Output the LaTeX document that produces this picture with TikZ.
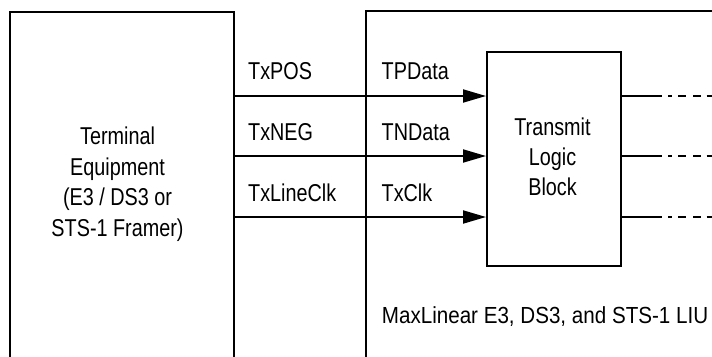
\documentclass[tikz,border=0pt]{standalone}
\usepackage{fontspec}
\setmainfont{Liberation Sans}
\usetikzlibrary{arrows.meta}
\newcommand{\vst}[1]{\scalebox{1}[1.23]{#1}}
\newcommand{\vsm}[1]{\scalebox{1}[1.13]{#1}}
\tikzset{
  thickbox/.style={draw, line width=2pt, inner sep=0pt, fill=none},
  thinbox/.style={draw, line width=1.3pt, inner sep=0pt},
  lbl/.style={inner sep=0pt, font=\fontsize{19.8}{24}\selectfont},
  biglbl/.style={inner sep=0pt, font=\fontsize{20.6}{24}\selectfont},
  sig/.style={line width=2pt, -{Triangle[length=23pt,width=13pt]}},
  outsolid/.style={line width=2pt},
  outdash/.style={line width=2pt, dash pattern=on 0pt off 6.3pt on 3.3pt off 6.6pt on 7.7pt off 7.3pt on 7.7pt off 5.7pt on 10pt off 5pt}
}
\begin{document}
\begin{tikzpicture}[x=1pt,y=-1pt]
\useasboundingbox (0,0) rectangle (712,356);
\fill[white] (0,0) rectangle (712,356);
% boxes
\node[thickbox, minimum width=224pt, minimum height=400pt] (te) at (122,212) {};
\node[thinbox, minimum width=400pt, minimum height=400pt] (liu) at (566,211) {};
\node[thickbox, minimum width=133.5pt, minimum height=213.7pt] (tlb) at (553.75,159.15) {};
% terminal equipment text
\node[lbl, anchor=base] (t1) at (117.5,144.5) {\vst{Terminal}};
\node[lbl, anchor=base] (t2) at (117.5,175) {\vst{Equipment}};
\node[lbl, anchor=base] (t3) at (117.5,205.5) {\vst{(E3 / DS3 or}};
\node[lbl, anchor=base] (t4) at (117.5,236) {\vst{STS-1 Framer)}};
% transmit logic block text
\node[lbl, anchor=base] (b1) at (552.5,135) {\vst{Transmit}};
\node[lbl, anchor=base] (b2) at (552.5,165) {\vst{Logic}};
\node[lbl, anchor=base] (b3) at (552.5,195) {\vst{Block}};
% signal labels
\node[lbl, anchor=base west] (s1) at (248,79) {\vst{TxPOS}};
\node[lbl, anchor=base west] (s2) at (248,140) {\vst{TxNEG}};
\node[lbl, anchor=base west] (s3) at (248,201) {\vst{TxLineClk}};
\node[lbl, anchor=base west] (p1) at (381.5,79.5) {\vst{TPData}};
\node[lbl, anchor=base west] (p2) at (381.5,140.5) {\vst{TNData}};
\node[lbl, anchor=base west] (p3) at (381.5,201) {\vst{TxClk}};
% caption
\node[biglbl, anchor=base west] (cap) at (381.7,323.5) {\vsm{MaxLinear E3, DS3, and STS-1 LIU}};
% input arrows
\draw[sig] (te.east |- 0,96) -- (tlb.west |- 0,96);
\draw[sig] (te.east |- 0,156) -- (tlb.west |- 0,156);
\draw[sig] (te.east |- 0,217) -- (tlb.west |- 0,217);
% outputs
\coordinate (d1) at (662,96);
\coordinate (d2) at (662,156);
\coordinate (d3) at (662,217);
\coordinate (e1) at (716,96);
\coordinate (e2) at (716,156);
\coordinate (e3) at (716,217);
\draw[outsolid] (tlb.east |- d1) -- (d1);
\draw[outsolid] (tlb.east |- d2) -- (d2);
\draw[outsolid] (tlb.east |- d3) -- (d3);
\draw[outdash] (d1) -- (e1);
\draw[outdash] (d2) -- (e2);
\draw[outdash] (d3) -- (e3);
\end{tikzpicture}
\end{document}
